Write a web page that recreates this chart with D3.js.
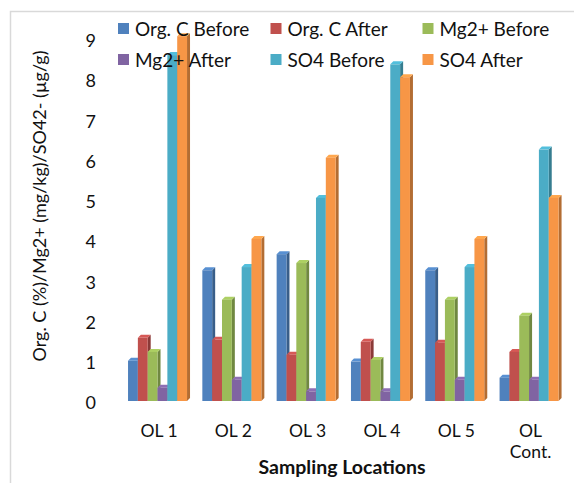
<!DOCTYPE html>
<html>
<head>
<meta charset="utf-8">
<script src="https://cdn.jsdelivr.net/npm/d3@7"></script>
<style>
  html, body { margin: 0; padding: 0; background: #fff; }
  svg { display: block; }
  text { font-family: Lato, "Open Sans", sans-serif; fill: #111; }
</style>
</head>
<body>
<svg id="chart" width="574" height="483"></svg>
<script>
// Sampling locations and measured values per series
const categories = ["OL 1", "OL 2", "OL 3", "OL 4", "OL 5", "OL Cont."];
const seriesNames = ["Org. C Before", "Org. C After", "Mg2+ Before", "Mg2+ After", "SO4 Before", "SO4 After"];
const orgCBefore = [1.00, 3.25, 3.65, 0.98, 3.25, 0.58];
const orgCAfter  = [1.57, 1.52, 1.15, 1.47, 1.45, 1.22];
const mgBefore   = [1.22, 2.52, 3.43, 1.02, 2.52, 2.12];
const mgAfter    = [0.33, 0.53, 0.24, 0.24, 0.53, 0.53];
const so4Before  = [8.60, 3.33, 5.05, 8.37, 3.33, 6.25];
const so4After   = [9.07, 4.03, 6.05, 8.05, 4.03, 5.05];
const yTicks = [0, 1, 2, 3, 4, 5, 6, 7, 8, 9];
const colors = ["#4F81BD", "#C0504D", "#9BBB59", "#8064A2", "#4BACC6", "#F79646"];

const seriesValues = [orgCBefore, orgCAfter, mgBefore, mgAfter, so4Before, so4After];

const svg = d3.select("#chart");

// outer frame (top and left edges)
svg.append("path")
  .attr("d", "M10.5,483 L10.5,11.5 L574,11.5")
  .attr("fill", "none")
  .attr("stroke", "#d9d9d9")
  .attr("stroke-width", 1.5);

const x0 = d3.scaleBand()
  .domain(categories)
  .range([120.6, 566])
  .paddingInner(0.206)
  .paddingOuter(0.1);

const x1 = d3.scaleBand()
  .domain(seriesNames)
  .range([0, x0.bandwidth()]);

const y = d3.scaleLinear().domain([0, 9]).range([401, 39]);

const depthX = 3, depthY = 3;

// 3D-style columns: front face, right side, top
const groups = svg.append("g").selectAll("g")
  .data(categories)
  .join("g")
  .attr("transform", d => `translate(${x0(d)},0)`);

groups.each(function(cat, ci) {
  const g = d3.select(this);
  seriesNames.forEach((name, si) => {
    const v = seriesValues[si][ci];
    const bx = x1(name), bw = x1.bandwidth();
    const top = y(v), base = y(0);
    const c = d3.color(colors[si]);
    const bar = g.append("g");
    // right side face
    bar.append("path")
      .attr("d", `M${bx + bw},${base} L${bx + bw},${top} L${bx + bw + depthX},${top - depthY} L${bx + bw + depthX},${base - depthY} Z`)
      .attr("fill", c.darker(0.9));
    // top face
    bar.append("path")
      .attr("d", `M${bx},${top} L${bx + depthX},${top - depthY} L${bx + bw + depthX},${top - depthY} L${bx + bw},${top} Z`)
      .attr("fill", c.brighter(0.3));
    // front face
    bar.append("rect")
      .attr("x", bx)
      .attr("y", top)
      .attr("width", bw)
      .attr("height", base - top)
      .attr("fill", c);
  });
});

// y axis labels
const yAxis = svg.append("g")
  .attr("transform", "translate(99,2)")
  .call(d3.axisLeft(y).tickValues(yTicks).tickSize(0).tickPadding(3).tickFormat(d3.format("d")));
yAxis.select(".domain").remove();
yAxis.selectAll("text")
  .style("font-family", "Lato, 'Open Sans', sans-serif")
  .style("font-size", "18px")
  .attr("fill", "#111");

// x axis labels (wrapped)
const xLabels = svg.append("g");
categories.forEach(cat => {
  const cx = x0(cat) + x0.bandwidth() / 2 + depthX / 2;
  const words = cat === "OL Cont." ? ["OL", "Cont."] : [cat];
  words.forEach((w, i) => {
    xLabels.append("text")
      .attr("x", cx)
      .attr("y", 437 + i * 21)
      .attr("text-anchor", "middle")
      .style("font-size", "17.5px")
      .text(w);
  });
});

// axis titles
svg.append("text")
  .attr("x", 342)
  .attr("y", 474)
  .attr("text-anchor", "middle")
  .style("font-size", "19.5px")
  .style("font-weight", "bold")
  .text("Sampling Locations");

svg.append("text")
  .attr("transform", "translate(46,206) rotate(-90)")
  .attr("text-anchor", "middle")
  .style("font-size", "18px")
  .text("Org. C (%)/Mg2+ (mg/kg)/SO42- (µg/g)");

// legend
const legendCols = [118, 270.5, 422.5];
const legendRows = [29, 60];
const legend = svg.append("g");
seriesNames.forEach((name, i) => {
  const lx = legendCols[i % 3], ly = legendRows[Math.floor(i / 3)];
  legend.append("rect")
    .attr("x", lx).attr("y", ly - 6)
    .attr("width", 11).attr("height", 11)
    .attr("fill", colors[i]);
  legend.append("text")
    .attr("x", lx + 17).attr("y", ly + 6.5)
    .style("font-size", "19px")
    .text(name);
});
</script>
</body>
</html>
